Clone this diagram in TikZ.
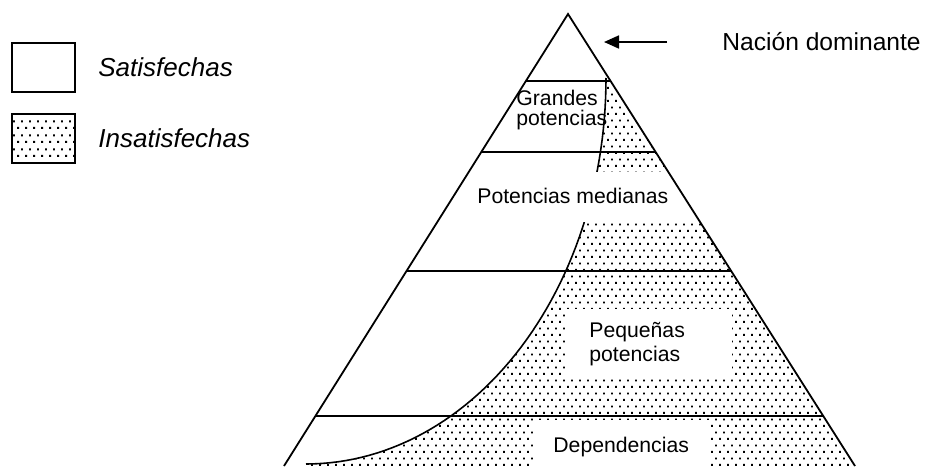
\documentclass[tikz,border=0pt]{standalone}
\usepackage{fontspec}
\setmainfont{Liberation Sans}
\usetikzlibrary{patterns,arrows.meta,calc}
\pgfdeclarepatternformonly{sparsedots}{\pgfpointorigin}{\pgfqpoint{4.2pt}{6.7pt}}{\pgfqpoint{4.2pt}{6.7pt}}{%
  \pgfpathrectangle{\pgfqpoint{0.6pt}{0.6pt}}{\pgfqpoint{1.0pt}{1.0pt}}%
  \pgfpathrectangle{\pgfqpoint{2.7pt}{3.95pt}}{\pgfqpoint{1.0pt}{1.0pt}}%
  \pgfusepath{fill}}
\begin{document}
\begin{tikzpicture}[x=0.5pt,y=-0.5pt,
  edge/.style={line width=0.9pt},
  curveline/.style={line width=0.8pt},
  lbl/.style={anchor=base west, inner sep=0pt, font=\fontsize{10.6}{12}\selectfont},
  leg/.style={anchor=base west, inner sep=0pt, font=\fontsize{13}{15}\selectfont\itshape},
  dotfill/.style={pattern=sparsedots, pattern color=black},
  blank/.style={fill=white, draw=none}]
\useasboundingbox (0,0) rectangle (935,466);
\coordinate (apex) at (568,14);
\coordinate (bl) at (284,466);
\coordinate (br) at (855,466);
% dotted (insatisfechas) region
\begin{scope}
  \clip (apex) -- (bl) -- (br) -- cycle;
  \clip (0,81) rectangle (935,466);
  \fill[dotfill] plot[domain=0:90,samples=60] ({306+300*cos(\x)},{78+386*sin(\x)}) -- (306,470) -- (935,470) -- (935,70) -- cycle;
\end{scope}
% dividing curve
\draw[curveline] plot[domain=0:90,samples=60] ({306+300*cos(\x)},{78+386*sin(\x)});
% white label backgrounds
\fill[blank] (470,172) rectangle (720,222);
\fill[blank] (566,309) rectangle (732,378);
\fill[blank] (533,420) rectangle (710,470);
% pyramid
\draw[edge] (bl) -- (apex) -- (br);
\coordinate (l1) at ($(apex)!0.1482!(bl)$);
\coordinate (r1) at ($(apex)!0.1482!(br)$);
\coordinate (l2) at ($(apex)!0.3053!(bl)$);
\coordinate (r2) at ($(apex)!0.3053!(br)$);
\coordinate (l3) at ($(apex)!0.5686!(bl)$);
\coordinate (r3) at ($(apex)!0.5686!(br)$);
\coordinate (l4) at ($(apex)!0.8894!(bl)$);
\coordinate (r4) at ($(apex)!0.8894!(br)$);
\draw[edge] (l1) -- (r1);
\draw[edge] (l2) -- (r2);
\draw[edge] (l3) -- (r3);
\draw[edge] (l4) -- (r4);
% arrow
\coordinate (arrowstart) at (667,42);
\coordinate (arrowtip) at (604,42);
\draw[edge,-{Triangle[length=7.5pt,width=6.5pt]}] (arrowstart) -- (arrowtip);
% legend
\draw[edge] (12,43) rectangle (75,92);
\draw[edge,dotfill] (12,114) rectangle (75,163);
\node[leg] (sat) at (98,76) {Satisfechas};
\node[leg] (insat) at (98,147) {Insatisfechas};
% labels
\node[lbl, font=\fontsize{12.3}{14}\selectfont] (nacion) at (722,50) {Nación dominante};
\node[lbl] (gr1) at (516,105) {Grandes};
\node[lbl] (gr2) at (516,125) {potencias};
\node[lbl] (med) at (477,203) {Potencias medianas};
\node[lbl] (peq1) at (589,337) {Pequeñas};
\node[lbl] (peq2) at (589,361) {potencias};
\node[lbl] (dep) at (553,452) {Dependencias};
\end{tikzpicture}
\end{document}
